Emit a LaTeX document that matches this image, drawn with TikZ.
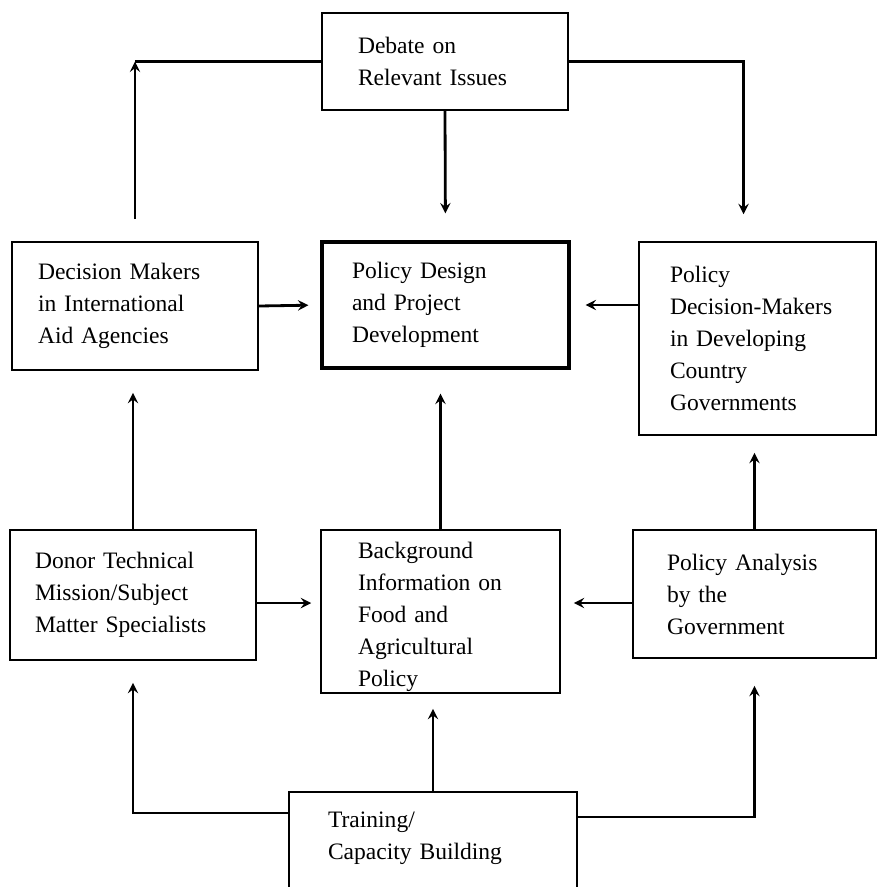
\documentclass[tikz,border=0pt]{standalone}
\usepackage{fontspec}
\setmainfont{Liberation Serif}
\usepackage{tikz}

\begin{document}
\begin{tikzpicture}[
    x=0.02cm, y=-0.02cm,
    box/.style={rectangle, draw, line width=0.9pt, align=left, inner xsep=0pt, inner ysep=0pt, font=\fontsize{13.4pt}{18.2pt}\selectfont},
    mainbox/.style={box, line width=1.8pt},
    arrow/.style={->, >=stealth, line width=1.6pt},
    link/.style={line width=1.6pt}
]
    \useasboundingbox (0,0) rectangle (878,887);
    \clip (0,0) rectangle (878,887);

    % top row
    \node[box, minimum width=4.92cm, minimum height=1.94cm, text width=3.48cm] (debate) at (445,61.5) {Debate on\\Relevant Issues};

    % middle row
    \node[box, minimum width=4.92cm, minimum height=2.56cm, text width=3.88cm] (aid) at (135,306) {Decision Makers\\in International\\Aid Agencies};
    \node[mainbox, minimum width=4.94cm, minimum height=2.52cm, text width=3.74cm] (design) at (445.5,305) {Policy Design\\and Project\\Development};
    \node[box, minimum width=4.74cm, minimum height=3.86cm, text width=3.5cm] (govdm) at (757.5,338.5) {Policy\\Decision-Makers\\in Developing\\Country\\Governments};

    % lower row
    \node[box, minimum width=4.92cm, minimum height=2.6cm, text width=3.92cm] (donor) at (133,595) {Donor Technical\\Mission/Subject\\Matter Specialists};
    \node[box, minimum width=4.78cm, minimum height=3.26cm, text width=3.3cm] (background) at (440.5,611.5) {\rule{0pt}{0.55cm}Background\\Information on\\Food and\\Agricultural\\Policy};
    \node[box, minimum width=4.86cm, minimum height=2.56cm, text width=3.5cm] (analysis) at (754.5,594) {Policy Analysis\\by the\\Government};

    % bottom box, cut off by the page edge
    \node[box, draw=none, minimum width=5.72cm, minimum height=1.8cm, text width=4.2cm] (train) at (433,838) {Training/\\Capacity Building};
    \draw[line width=0.9pt] ([yshift=-1cm]train.south west) -- (train.north west) -- (train.north east) -- ([yshift=-1cm]train.south east);

    % connectors from the debate box
    \coordinate (tl) at (aid.north |- debate.west);
    \draw[arrow, shorten <=0.44cm] (aid.north) -- (tl);
    \draw[link] (tl) -- (debate.west);
    \draw[arrow, shorten >=0.54cm] (debate.east) -| ([xshift=-0.28cm]govdm.north);
    \draw[arrow, shorten >=0.54cm] (debate.south) -- (design.north);

    % into policy design
    \draw[arrow, shorten >=0.24cm] (aid.east) -- (design.west);
    \draw[arrow, shorten >=0.3cm] (govdm.west |- design.east) -- (design.east);
    \draw[arrow, shorten >=0.48cm] (background.north) -- (background.north |- design.south);

    % lower row upwards and sideways
    \draw[arrow, shorten >=0.44cm] (donor.north) -- (donor.north |- aid.south);
    \draw[arrow, shorten >=0.34cm] (analysis.north) -- (analysis.north |- govdm.south);
    \draw[arrow, shorten >=0.18cm] ([yshift=-0.16cm]donor.east) -- ([yshift=-0.16cm]donor.east -| background.west);
    \draw[arrow, shorten >=0.26cm] ([yshift=-0.18cm]analysis.west) -- ([yshift=-0.18cm]analysis.west -| background.east);

    % from training
    \draw[arrow, shorten >=0.3cm] (train.north) -- (train.north |- background.south);
    \draw[arrow, shorten >=0.44cm] ([yshift=0.5cm]train.west) -| (donor.south);
    \draw[arrow, shorten >=0.54cm] ([yshift=0.42cm]train.east) -| (analysis.south);
\end{tikzpicture}
\end{document}
